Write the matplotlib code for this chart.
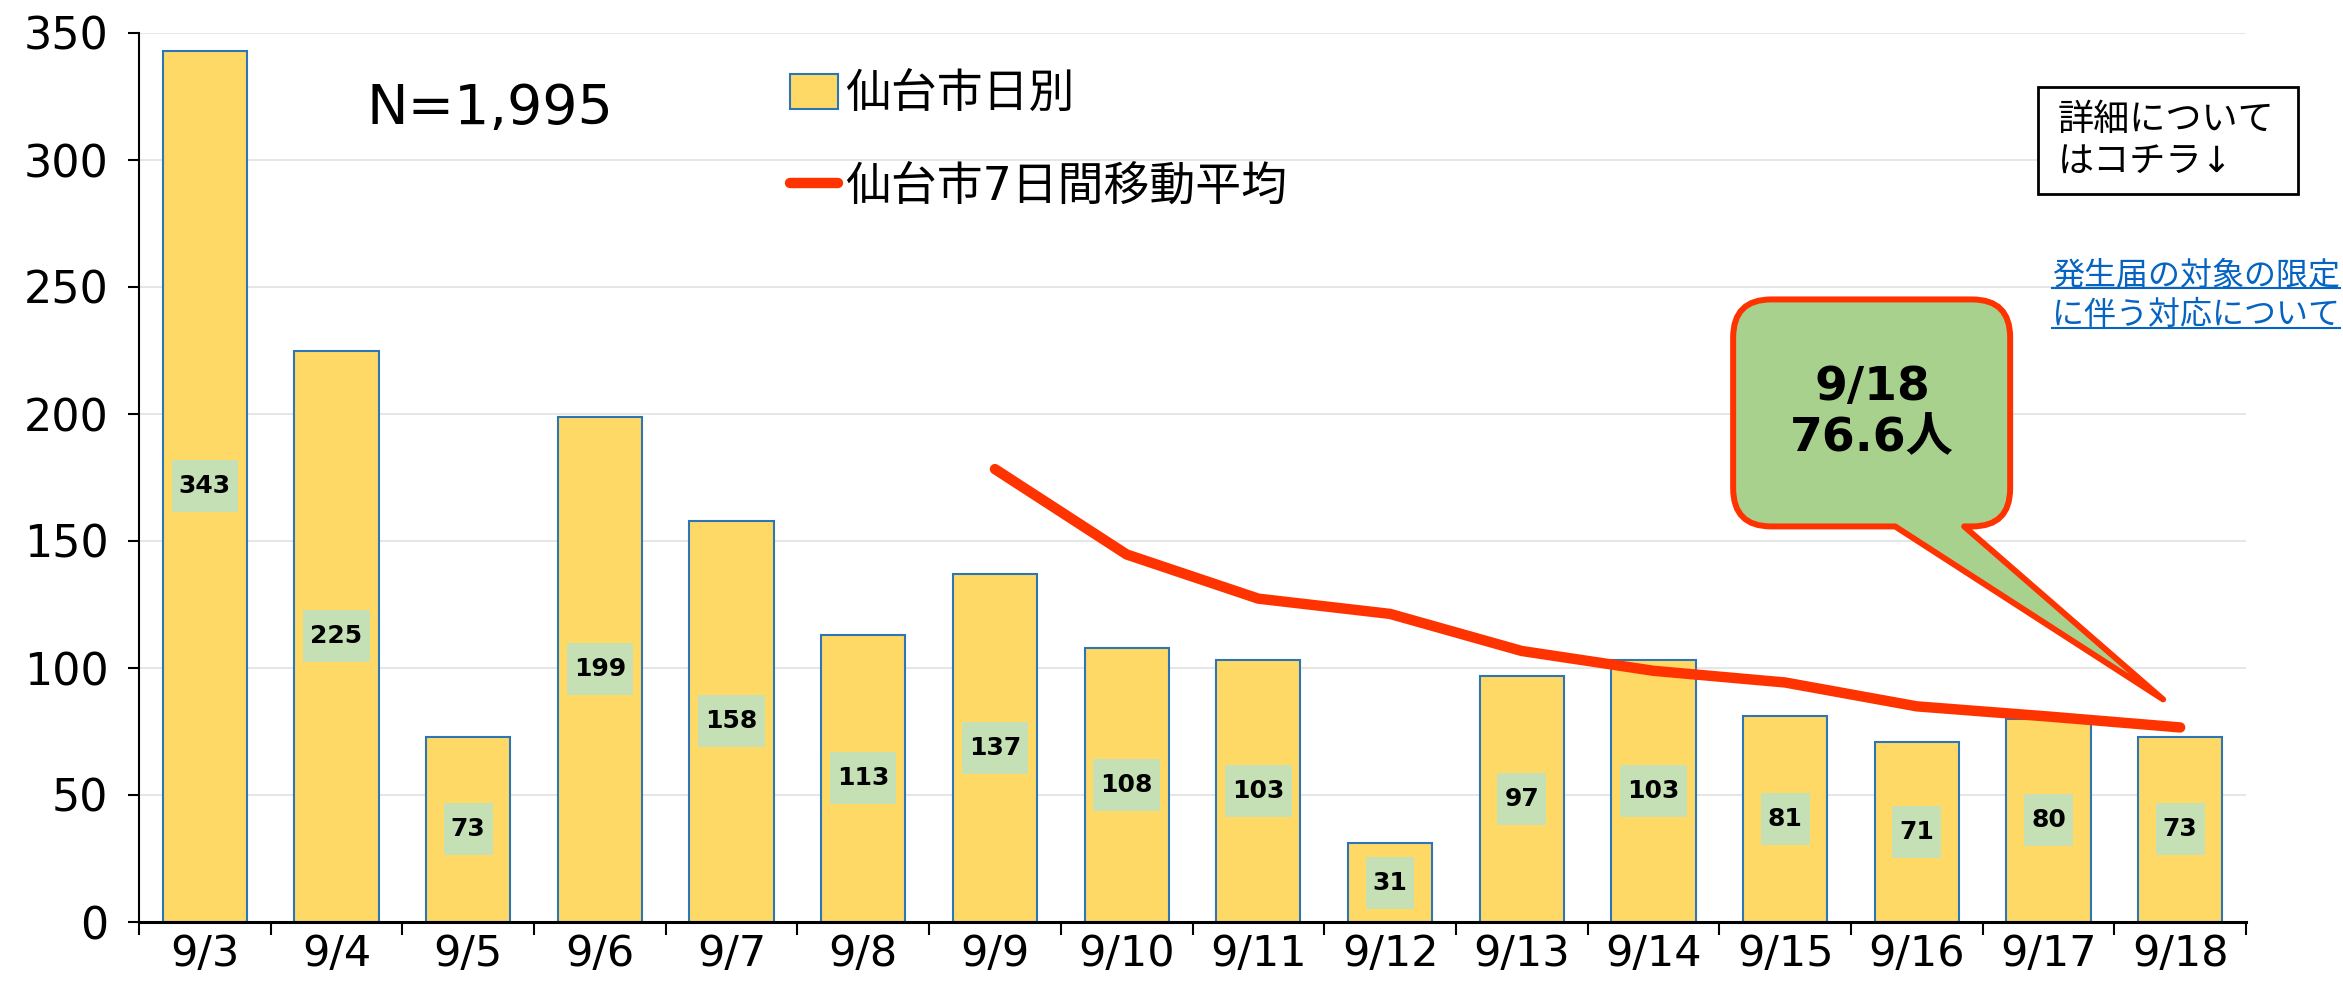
import matplotlib
matplotlib.use("Agg")
import matplotlib.pyplot as plt
import numpy as np
from matplotlib.path import Path
from matplotlib.patches import PathPatch, Rectangle
from matplotlib.lines import Line2D
from matplotlib.transforms import IdentityTransform

plt.rcParams['font.family'] = ['DejaVu Sans', 'Noto Sans CJK JP']

# data
dates = ['9/3', '9/4', '9/5', '9/6', '9/7', '9/8', '9/9', '9/10',
         '9/11', '9/12', '9/13', '9/14', '9/15', '9/16', '9/17', '9/18']
daily = [343, 225, 73, 199, 158, 113, 137, 108, 103, 31, 97, 103, 81, 71, 80, 73]
avg_dates = dates[6:]
avg7 = [178.3, 144.7, 127.3, 121.3, 106.7, 98.9, 94.3, 84.9, 80.9, 76.6]
yticks = [0, 50, 100, 150, 200, 250, 300, 350]
total_text = 'N=1,995'
daily_label = '仙台市日別'
avg_label = '仙台市7日間移動平均'
callout_text = '9/18\n76.6人'
info_text = '詳細について\nはコチラ↓'
link_lines = ['発生届の対象の限定', 'に伴う対応について']

BAR_YELLOW = '#FFD966'
BAR_EDGE = '#2E75B6'
LABEL_GREEN = '#C5E0B4'
LINE_RED = '#FF3300'
CALLOUT_GREEN = '#A9D18E'
LINK_BLUE = '#0563C1'

W, H = 2343, 981
fig = plt.figure(figsize=(W / 100, H / 100), dpi=100)
ax = fig.add_axes([139 / W, 1 - 922 / H, (2246 - 139) / W, (922 - 33) / H])

x = np.arange(len(dates))
bars = ax.bar(x, daily, width=0.64, color=BAR_YELLOW, edgecolor=BAR_EDGE,
              linewidth=1.5, zorder=2)


def label_box(x0, y0, width, height, mutation_size):
    # wider padding top/bottom than left/right, like the Excel labels
    px = 0.28 * mutation_size
    py = 0.56 * mutation_size
    verts = [(x0 - px, y0 - py), (x0 + width + px, y0 - py),
             (x0 + width + px, y0 + height + py), (x0 - px, y0 + height + py),
             (x0 - px, y0 - py)]
    codes = [Path.MOVETO, Path.LINETO, Path.LINETO, Path.LINETO, Path.CLOSEPOLY]
    return Path(verts, codes)


for xi, v in zip(x, daily):
    ax.text(xi, v / 2, str(v), ha='center', va='center', fontsize=18,
            fontweight='bold', color='black', zorder=3,
            bbox=dict(boxstyle=label_box, facecolor=LABEL_GREEN, edgecolor='none'))

avg_x = [dates.index(d) for d in avg_dates]
line, = ax.plot(avg_x, avg7, color=LINE_RED, linewidth=7.5,
                solid_capstyle='round', solid_joinstyle='round', zorder=4)

ax.set_xlim(-0.5, len(dates) - 0.5)
ax.set_ylim(0, 350)
ax.set_yticks(yticks)
ax.set_xticks(x)
ax.set_xticklabels(dates)
ax.set_xticks(np.arange(-0.5, len(dates), 1), minor=True)
ax.tick_params(axis='y', length=8, width=1.5, pad=14, labelsize=32)
ax.tick_params(axis='x', which='major', length=0, pad=8, labelsize=31)
ax.tick_params(axis='x', which='minor', length=9, width=1.5)
ax.grid(axis='y', color='#E2E2E2', linewidth=1.2, zorder=0)
ax.set_axisbelow(True)
for side in ['top', 'right']:
    ax.spines[side].set_visible(False)
ax.spines['left'].set_linewidth(1.5)
ax.spines['bottom'].set_linewidth(2.2)

ax.legend(handles=[bars, line], labels=[daily_label, avg_label],
          loc='upper left', bbox_to_anchor=(790 / W, 1 - 72 / H),
          bbox_transform=fig.transFigure, frameon=False, fontsize=33,
          handlelength=1.05, handleheight=0.8, handletextpad=0.15,
          labelspacing=1.05, borderpad=0, borderaxespad=0)

fig.text(490 / W, 1 - 109 / H, total_text, ha='center', va='center', fontsize=40)

# callout pointing at the last moving average value (built in pixels)
anchor = ax.transData.transform((avg_x[-1], avg7[-1]))


def callout_path(tip, box, base, r):
    x0, y0, x1, y1 = box
    bl, br = base
    verts = [(bl, y0), tip, (br, y0), (x1 - r, y0), (x1, y0), (x1, y0 + r),
             (x1, y1 - r), (x1, y1), (x1 - r, y1), (x0 + r, y1), (x0, y1),
             (x0, y1 - r), (x0, y0 + r), (x0, y0), (x0 + r, y0), (bl, y0)]
    codes = [Path.MOVETO, Path.LINETO, Path.LINETO, Path.LINETO,
             Path.CURVE3, Path.CURVE3, Path.LINETO, Path.CURVE3, Path.CURVE3,
             Path.LINETO, Path.CURVE3, Path.CURVE3, Path.LINETO,
             Path.CURVE3, Path.CURVE3, Path.CLOSEPOLY]
    verts = [(vx + anchor[0], vy + anchor[1]) for vx, vy in verts]
    return Path(verts, codes)


bubble = PathPatch(callout_path(tip=(-17, 28), box=(-447, 201, -170, 428),
                                base=(-285, -216), r=38),
                   facecolor=CALLOUT_GREEN, edgecolor=LINE_RED, linewidth=4.3,
                   joinstyle='round', transform=IdentityTransform(), zorder=5)
fig.add_artist(bubble)
fig.text(anchor[0] - 308, anchor[1] + 315, callout_text, transform=IdentityTransform(),
         ha='center', va='center', multialignment='center', fontsize=34,
         fontweight='bold', linespacing=1.15, zorder=6)

# "details" box at top right
fig.add_artist(Rectangle((2038 / W, 1 - 194 / H), 260 / W, 107 / H,
                         transform=fig.transFigure, facecolor='white',
                         edgecolor='black', linewidth=2))
fig.text(2058 / W, 1 - 141 / H, info_text, ha='left', va='center',
         fontsize=26, linespacing=1.3)

# underlined link text
link_texts = []
for i, s in enumerate(link_lines):
    t = fig.text(2052 / W, 1 - (276 + 39 * i) / H, s, ha='left', va='center',
                 fontsize=23, color=LINK_BLUE)
    link_texts.append(t)

fig.canvas.draw()
renderer = fig.canvas.get_renderer()
for t in link_texts:
    bb = t.get_window_extent(renderer)
    fig.add_artist(Line2D([bb.x0, bb.x1], [bb.y0 + 3, bb.y0 + 3], color=LINK_BLUE,
                          linewidth=1.5, transform=IdentityTransform()))

fig.savefig('out.png', dpi=100)
